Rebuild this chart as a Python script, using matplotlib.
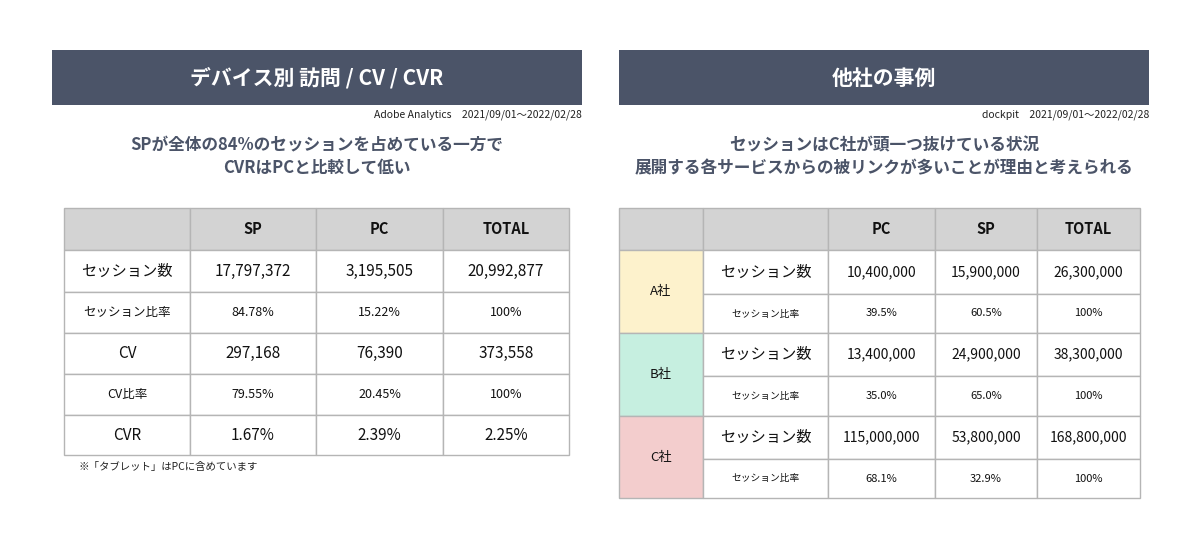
import matplotlib
matplotlib.use("Agg")
import matplotlib.pyplot as plt
from matplotlib.patches import Rectangle

plt.rcParams["font.family"] = "Noto Sans CJK JP"

# ── data ─────────────────────────────────────────────
left_title = "デバイス別 訪問 / CV / CVR"
left_source = "Adobe Analytics　2021/09/01〜2022/02/28"
left_sub = ["SPが全体の84%のセッションを占めている一方で", "CVRはPCと比較して低い"]
left_cols = ["", "SP", "PC", "TOTAL"]
left_rows = [
    ["セッション数", "17,797,372", "3,195,505", "20,992,877"],
    ["セッション比率", "84.78%", "15.22%", "100%"],
    ["CV", "297,168", "76,390", "373,558"],
    ["CV比率", "79.55%", "20.45%", "100%"],
    ["CVR", "1.67%", "2.39%", "2.25%"],
]
left_note = "※「タブレット」はPCに含めています"

right_title = "他社の事例"
right_source = "dockpit　2021/09/01〜2022/02/28"
right_sub = ["セッションはC社が頭一つ抜けている状況", "展開する各サービスからの被リンクが多いことが理由と考えられる"]
right_cols = ["", "", "PC", "SP", "TOTAL"]
companies = ["A社", "B社", "C社"]
company_colors = ["#fdf2cc", "#c6efe0", "#f3cdcd"]
sessions_pc = ["10,400,000", "13,400,000", "115,000,000"]
sessions_sp = ["15,900,000", "24,900,000", "53,800,000"]
sessions_total = ["26,300,000", "38,300,000", "168,800,000"]
ratio_pc = ["39.5%", "35.0%", "68.1%"]
ratio_sp = ["60.5%", "65.0%", "32.9%"]

BANNER = "#4b5468"
HEAD = "#d3d3d3"
LINE = "#b5b5b5"

fig = plt.figure(figsize=(12, 5.5), dpi=100)
ax = fig.add_axes([0, 0, 1, 1])
ax.set_xlim(0, 1200)
ax.set_ylim(550, 0)
ax.axis("off")


def cell(x, y, w, h, text="", fc="white", size=10.5, weight="normal"):
    ax.add_patch(Rectangle((x, y), w, h, facecolor=fc, edgecolor=LINE, linewidth=1))
    if text:
        ax.text(x + w / 2, y + h / 2, text, ha="center", va="center",
                fontsize=size, fontweight=weight, color="#111111")


def panel(x0, x1, title, source, sub):
    ax.add_patch(Rectangle((x0, 50), x1 - x0, 55, facecolor=BANNER, edgecolor="none"))
    ax.text((x0 + x1) / 2, 78, title, ha="center", va="center", color="white",
            fontsize=15, fontweight="bold")
    ax.text(x1, 115, source, ha="right", va="center", fontsize=7.5, color="#222222")
    for i, s in enumerate(sub):
        ax.text((x0 + x1) / 2, 145 + i * 23, s, ha="center", va="center",
                fontsize=12, fontweight="bold", color=BANNER)


panel(52, 582, left_title, left_source, left_sub)
panel(619, 1149, right_title, right_source, right_sub)

# ── left table ───────────────────────────────────
lx = [64, 190, 316, 443, 569]
ly = [208, 250, 292, 333, 374, 415, 455]
for c, name in enumerate(left_cols):
    cell(lx[c], ly[0], lx[c + 1] - lx[c], ly[1] - ly[0], name, HEAD, 10.5, "bold")
for r, row in enumerate(left_rows):
    big = r % 2 == 0
    for c, val in enumerate(row):
        cell(lx[c], ly[r + 1], lx[c + 1] - lx[c], ly[r + 2] - ly[r + 1], val,
             size=11 if big else 9)
ax.text(78, 467, left_note, ha="left", va="center", fontsize=7.5, color="#222222")

# ── right table ──────────────────────────────────
rx = [619, 703, 828, 935, 1037, 1140]
ry = [208, 250, 294, 333, 376, 416, 459, 498]
for c, name in enumerate(right_cols):
    cell(rx[c], ry[0], rx[c + 1] - rx[c], ry[1] - ry[0], name, HEAD, 10.5, "bold")
for i, comp in enumerate(companies):
    top, mid, bot = ry[2 * i + 1], ry[2 * i + 2], ry[2 * i + 3]
    cell(rx[0], top, rx[1] - rx[0], bot - top, comp, company_colors[i], 9.5)
    rows = [["セッション数", sessions_pc[i], sessions_sp[i], sessions_total[i]],
            ["セッション比率", ratio_pc[i], ratio_sp[i], "100%"]]
    for k, (y0, y1) in enumerate([(top, mid), (mid, bot)]):
        for c, val in enumerate(rows[k]):
            sz = (11 if c == 0 else 10) if k == 0 else (7 if c == 0 else 8)
            cell(rx[c + 1], y0, rx[c + 2] - rx[c + 1], y1 - y0, val, size=sz)

fig.savefig("out.png", dpi=100, facecolor="white")
